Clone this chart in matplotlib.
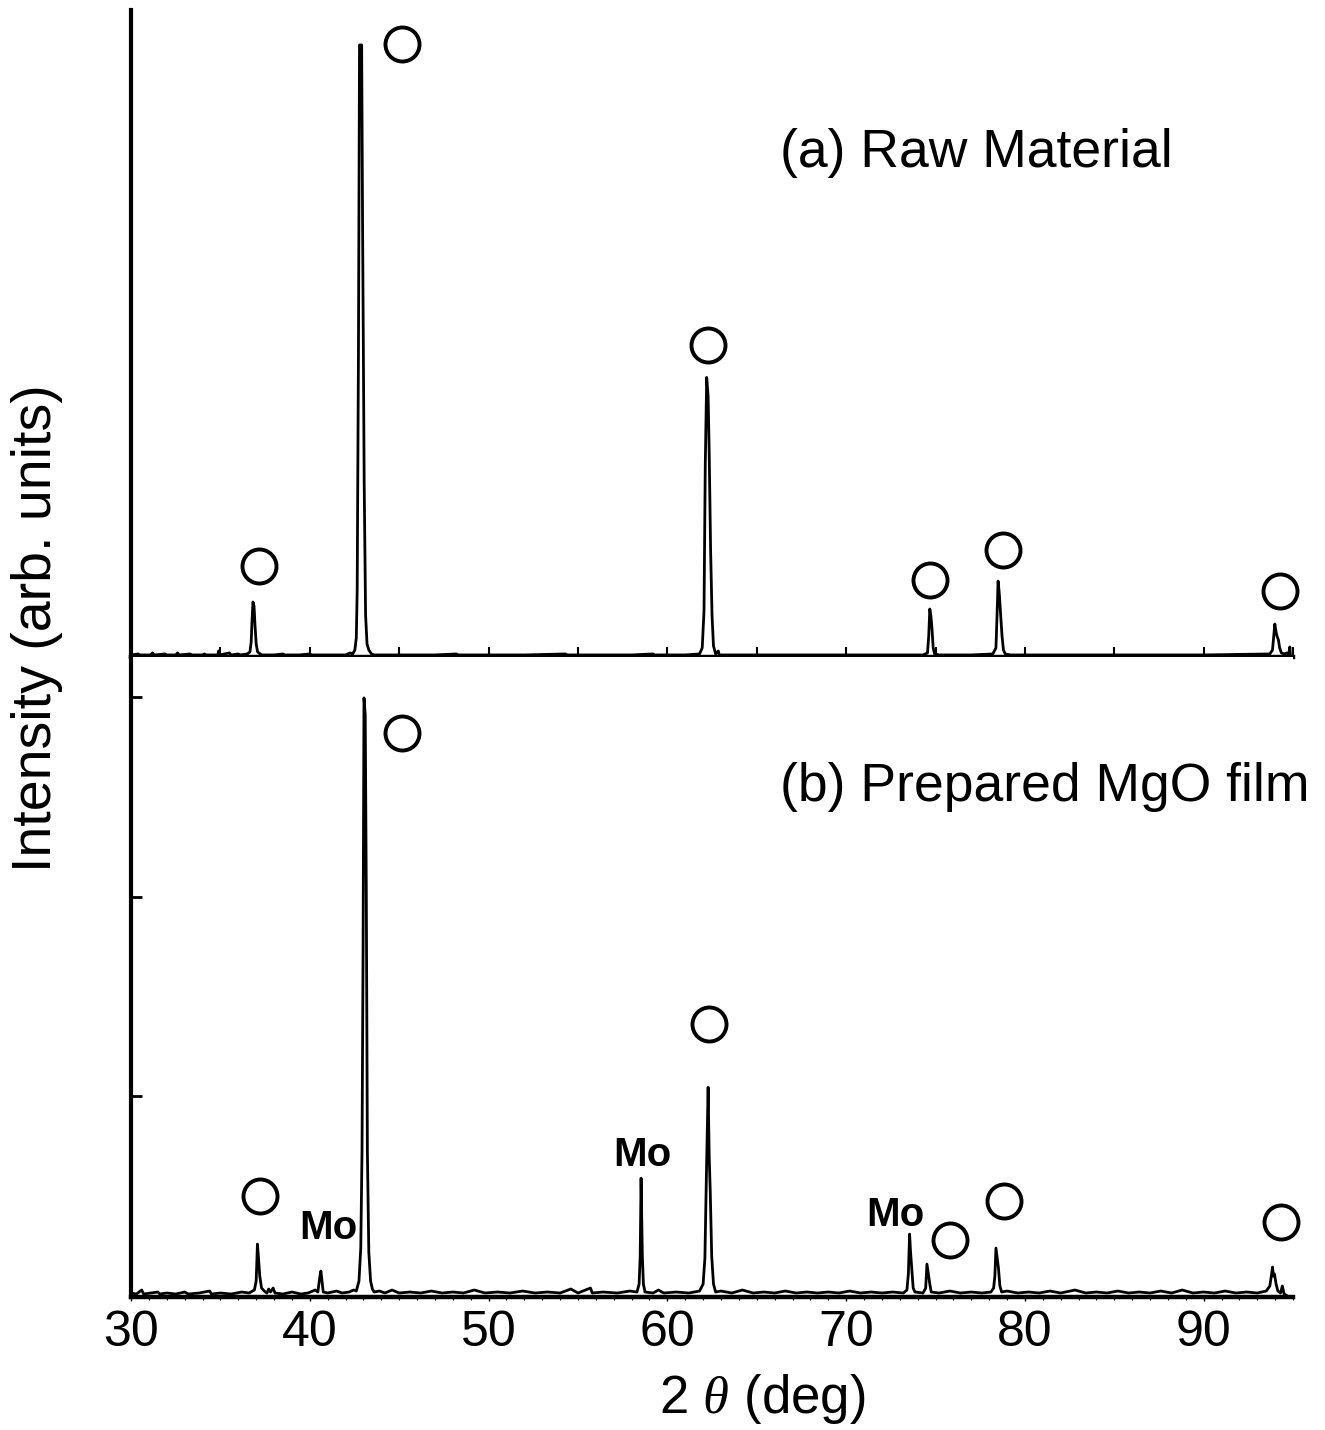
import numpy as np
import matplotlib
matplotlib.use('Agg')
import matplotlib.pyplot as plt

plt.rcParams['font.family'] = ['Liberation Sans', 'DejaVu Sans']
plt.rcParams['mathtext.fontset'] = 'custom'
plt.rcParams['mathtext.it'] = 'Liberation Serif:italic'
plt.rcParams['mathtext.rm'] = 'Liberation Sans'

# (a) raw material pattern, 2theta (deg) vs intensity (arb. units)
two_theta_a = [30.0, 30.4, 30.5, 31.1, 31.2, 31.3, 31.9, 32.0, 32.5, 32.6, 32.7, 33.3, 33.4,
               34.0, 34.1, 34.2, 34.85, 34.9, 34.95, 35.5, 35.6, 36.0, 36.1, 36.5,
               36.65, 36.72, 36.76, 36.82, 36.88, 36.93, 37.0, 37.08, 37.3,
               38.0, 38.5, 38.6, 39.4, 40.0, 40.1, 41.0, 42.0, 42.25, 42.4,
               42.52, 42.6, 42.65, 42.72, 42.78, 42.9, 42.95, 43.04, 43.12, 43.2, 43.3, 43.45, 43.6,
               45.5, 47.0, 48.2, 48.3, 50.0, 52.0, 54.3, 54.4, 56.0, 58.0, 59.2, 59.3, 61.0,
               61.8, 61.95, 62.05, 62.12, 62.2, 62.28, 62.34, 62.42, 62.5, 62.58, 62.7, 62.85, 62.9,
               64.0, 66.0, 68.0, 70.0, 72.0, 74.3,
               74.55, 74.62, 74.68, 74.74, 74.8, 74.87, 74.95, 75.2, 77.0,
               78.2, 78.38, 78.44, 78.5, 78.57, 78.64, 78.72, 78.8, 78.9, 79.2,
               82.0, 86.0, 90.0, 93.7, 93.85, 93.92, 93.98, 94.05, 94.1, 94.18, 94.25,
               94.35, 94.5, 94.65, 94.75, 94.82, 94.85]
intensity_a = [1, 2, 1, 1, 3, 1, 2, 1, 1, 3, 1, 2, 1,
               1, 2, 1, 1, 5, 1, 3, 1, 2, 1, 2,
               4, 14, 32, 54, 50, 32, 12, 4, 1,
               1, 2, 1, 1, 2, 1, 1, 1, 3, 2,
               6, 18, 66, 302, 612, 612, 437, 176, 41, 12, 6, 2, 1,
               1, 1, 2, 1, 1, 1, 2, 1, 1, 1, 2, 1, 1,
               2, 8, 45, 190, 279, 260, 204, 105, 40, 10, 2, 5, 1,
               1, 1, 1, 1, 1, 1,
               3, 20, 47, 40, 28, 8, 2, 1, 1,
               2, 8, 40, 75, 62, 42, 20, 6, 2, 1,
               1, 1, 1, 2, 6, 20, 32, 24, 20, 16, 8,
               3, 2, 3, 1, 9, 1]

# (b) prepared MgO film pattern
two_theta_b = [30.0, 30.3, 30.6, 30.7, 31.1, 31.5, 31.6, 32.0, 32.5, 33.0, 33.2, 33.8, 34.4, 34.5,
               35.0, 35.6, 36.2, 36.6, 36.9, 37.0, 37.07, 37.13, 37.2, 37.3, 37.45, 37.6, 37.7,
               37.8, 37.95, 38.05, 38.5, 39.0, 39.5, 39.9, 40.3, 40.45, 40.55, 40.62, 40.68, 40.75,
               41.0, 41.5, 41.8, 42.2, 42.45, 42.6, 42.75, 42.85, 42.92, 42.98, 43.03, 43.1, 43.16,
               43.22, 43.3, 43.4, 43.5, 43.6, 43.9, 44.2, 44.6, 45.0, 45.6, 46.2, 46.8, 47.4, 48.0,
               48.6, 49.2, 49.8, 50.5, 51.2, 51.9, 52.6, 53.3, 54.0, 54.6, 55.0, 55.7, 55.8, 56.4,
               57.2, 57.9, 58.3, 58.42, 58.48, 58.53, 58.6, 58.66, 58.75, 59.2, 59.5, 59.8, 60.5,
               61.2, 61.8, 62.0, 62.1, 62.18, 62.28, 62.34, 62.4, 62.48, 62.58, 62.7, 63.0, 63.6,
               64.2, 64.8, 65.4, 66.0, 66.6, 67.2, 67.8, 68.4, 69.0, 69.6, 70.2, 70.8, 71.4, 72.0,
               72.6, 73.2, 73.4, 73.48, 73.55, 73.6, 73.66, 73.75, 73.85, 74.3, 74.45, 74.52, 74.6,
               74.68, 74.76, 75.2, 75.8, 76.4, 77.0, 77.6, 78.1, 78.25, 78.32, 78.38, 78.45, 78.52,
               78.6, 78.7, 79.0, 79.6, 80.2, 80.8, 81.4, 82.0, 82.8, 83.4, 84.0, 84.6, 85.2, 85.8,
               86.4, 87.0, 87.6, 88.2, 88.8, 89.4, 90.0, 90.6, 91.2, 91.8, 92.4, 93.0, 93.5, 93.7,
               93.8, 93.85, 93.9, 93.96, 94.05, 94.15, 94.3, 94.4, 94.5, 94.6]
intensity_b = [3, 2, 6, 2, 3, 4, 2, 3, 2, 4, 2, 3, 5, 2,
               3, 2, 4, 3, 6, 15, 52, 38, 20, 8, 5, 3, 7,
               4, 8, 3, 2, 4, 2, 3, 6, 4, 18, 25, 15, 4,
               3, 5, 3, 4, 6, 5, 15, 48, 145, 348, 599, 582, 402,
               145, 44, 15, 7, 4, 5, 3, 6, 3, 4, 3, 5, 3, 4,
               3, 6, 3, 4, 3, 5, 3, 4, 3, 7, 3, 8, 3, 4,
               3, 5, 4, 12, 40, 118, 40, 12, 4, 3, 6, 3, 4,
               3, 5, 12, 38, 117, 209, 140, 104, 40, 12, 4, 5, 3,
               6, 3, 4, 3, 5, 3, 4, 3, 4, 3, 5, 3, 4, 3,
               4, 3, 6, 22, 62, 45, 30, 8, 4, 3, 8, 32, 22,
               12, 4, 3, 5, 3, 4, 3, 4, 8, 20, 48, 38, 28,
               10, 4, 5, 3, 4, 3, 5, 3, 6, 3, 4, 3, 5, 3,
               4, 3, 5, 3, 6, 3, 4, 3, 5, 3, 4, 3, 5, 10,
               22, 29, 20, 22, 12, 5, 3, 10, 2, 1]

# MgO peak markers (open circles) and Mo labels
circle_a_x = [37.16, 45.16, 62.27, 74.69, 78.77, 94.26]
circle_a_y = [90, 613, 311, 76, 106, 65]
circle_b_x = [37.21, 45.16, 62.33, 75.81, 78.83, 94.32]
circle_b_y = [100, 564, 272, 56, 95, 74]
mo_x = [41.02, 58.63, 72.73]
mo_y = [68, 141, 81]

fig = plt.figure(figsize=(13.25, 14.3), dpi=100)
ax_a = fig.add_axes([0.0989, 0.5406, 0.877, 0.4524])
ax_b = fig.add_axes([0.0989, 0.0930, 0.877, 0.4476])

for ax in (ax_a, ax_b):
    ax.spines['top'].set_visible(False)
    ax.spines['right'].set_visible(False)
    ax.spines['left'].set_linewidth(3.0)
    ax.spines['bottom'].set_linewidth(3.2)
    ax.set_xlim(30, 95)

# panel a
ax_a.plot(two_theta_a, intensity_a, color='black', lw=2.0)
ax_a.plot(circle_a_x, circle_a_y, 'o', ms=24.5, mfc='none', mec='black', mew=2.8, clip_on=False)
ax_a.set_ylim(-1, 647)
ax_a.set_yticks([])
ax_a.set_xticks(np.arange(35, 96, 5))
ax_a.tick_params(axis='x', direction='in', length=7, width=1.5, labelbottom=False)
ax_a.text(0.5585, 0.779, '(a) Raw Material', transform=ax_a.transAxes,
          fontsize=38.5, va='center', ha='left')

# panel b
ax_b.plot(two_theta_b, intensity_b, color='black', lw=2.0)
ax_b.plot(circle_b_x, circle_b_y, 'o', ms=24.5, mfc='none', mec='black', mew=2.8, clip_on=False)
for x, y in zip(mo_x, mo_y):
    ax_b.text(x, y, 'Mo', fontsize=29, fontweight='bold', ha='center', va='center')
ax_b.set_ylim(-1, 640)
ax_b.set_yticks([200, 400, 600])
ax_b.set_yticklabels([])
ax_b.tick_params(axis='y', direction='in', length=8, width=2)
ax_b.set_xticks(np.arange(30, 100, 10))
ax_b.set_xticks(np.arange(30, 96, 1), minor=True)
ax_b.tick_params(axis='x', which='major', direction='out', length=3, width=1, labelsize=36, pad=6)
ax_b.tick_params(axis='x', which='minor', direction='out', length=2, width=0.8)
ax_b.text(0.5585, 0.797, '(b) Prepared MgO film', transform=ax_b.transAxes,
          fontsize=38.5, va='center', ha='left')

fig.text(0.575, 0.003, r'2 $\theta$ (deg)', fontsize=38, ha='center', va='bottom')
fig.text(0.028, 0.561, 'Intensity (arb. units)', rotation=90, fontsize=40,
         ha='center', va='center')

fig.savefig('out.png', dpi=100, facecolor='white')
